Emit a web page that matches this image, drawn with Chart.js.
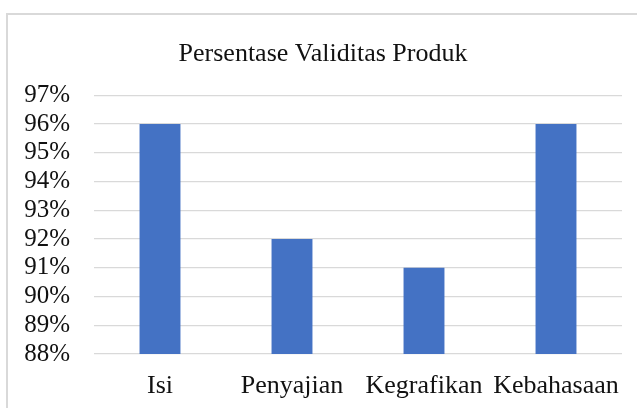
<!DOCTYPE html>
<html lang="id">
<head>
    <meta charset="UTF-8">
    <title>Persentase Validitas Produk</title>
    <script src="https://cdn.jsdelivr.net/npm/chart.js"></script>
    <style>
        html, body {
            margin: 0;
            padding: 0;
            background: #ffffff;
            overflow: hidden;
        }
        .frame {
            position: absolute;
            left: 6px;
            top: 13px;
            width: 700px;
            height: 500px;
            border: 2px solid #d9d9d9;
        }
        .chart-box {
            position: absolute;
            left: 0;
            top: 0;
            width: 637px;
            height: 408px;
        }
    </style>
</head>
<body>
    <div class="frame"></div>
    <div class="chart-box">
        <canvas id="chart" width="637" height="408"></canvas>
    </div>

    <script>
        // data
        const categories = ['Isi', 'Penyajian', 'Kegrafikan', 'Kebahasaan'];
        const validitas = [96, 92, 91, 96];
        const yMin = 88;
        const yMax = 97;
        const yStep = 1;

        const fontFamily = '"Liberation Serif", "DejaVu Serif", serif';
        const textColor = '#111111';
        const gridColor = '#d9d9d9';

        new Chart(document.getElementById('chart'), {
            type: 'bar',
            data: {
                labels: categories,
                datasets: [{
                    data: validitas,
                    backgroundColor: '#4472c4',
                    barPercentage: 0.31,
                    categoryPercentage: 1
                }]
            },
            options: {
                responsive: false,
                animation: false,
                layout: {
                    padding: { top: 39, left: 24, right: 15, bottom: 9 }
                },
                plugins: {
                    legend: { display: false },
                    tooltip: { enabled: false },
                    title: {
                        display: true,
                        text: 'Persentase Validitas Produk',
                        color: textColor,
                        font: { family: fontFamily, size: 26, weight: 'normal' },
                        padding: { top: 0, bottom: 25 }
                    }
                },
                scales: {
                    x: {
                        afterFit: function (scale) { scale.height = 45; },
                        grid: { display: false },
                        border: { display: false },
                        ticks: {
                            color: textColor,
                            padding: 9,
                            font: { family: fontFamily, size: 26 },
                            maxRotation: 0,
                            autoSkip: false
                        }
                    },
                    y: {
                        min: yMin,
                        max: yMax,
                        afterFit: function (scale) { scale.width = 70; },
                        grid: {
                            color: gridColor,
                            lineWidth: 1.3,
                            drawTicks: false
                        },
                        border: { display: false },
                        ticks: {
                            stepSize: yStep,
                            autoSkip: false,
                            color: textColor,
                            padding: 24,
                            font: { family: fontFamily, size: 25 },
                            callback: function (v) { return Math.round(v) + '%'; }
                        }
                    }
                }
            }
        });
    </script>
</body>
</html>
